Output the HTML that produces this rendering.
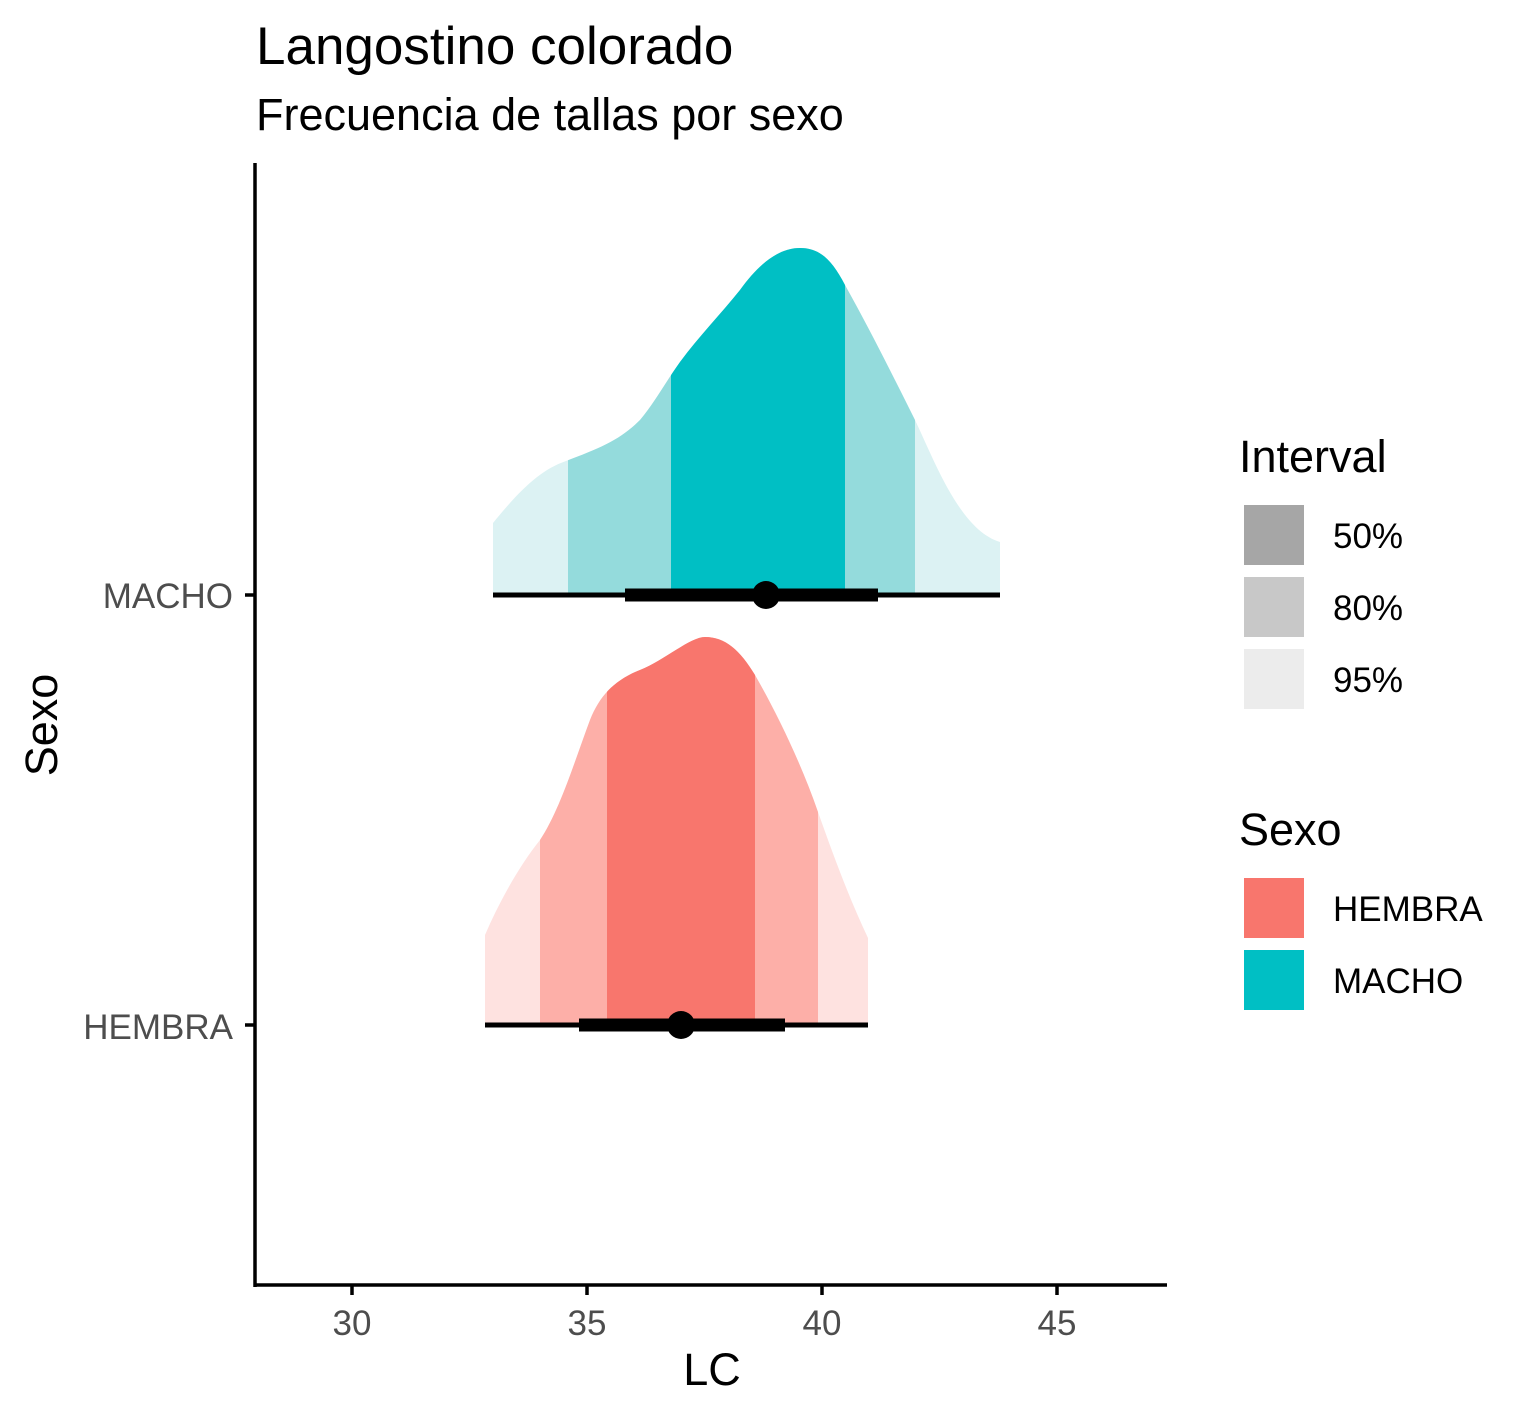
<!DOCTYPE html>
<html><head><style>body{margin:0;background:#fff}svg{display:block}</style></head><body>
<svg width="1535" height="1417" xmlns="http://www.w3.org/2000/svg" font-family="Liberation Sans, sans-serif">
<defs>
<clipPath id="m95"><path d="M493,595 L493,523 C520,490 540,470 566,461 C600,448 620,440 640,420 C655,402 665,383 680,362 C700,335 720,315 740,290 C760,262 780,248 800,248 C820,248 832,260 845,285 C870,330 890,370 915,420 C935,462 960,530 1000,542 L1000,595 Z"/></clipPath>
<clipPath id="h95"><path d="M485,1025 L485,935 C500,900 520,865 540,840 C560,810 575,760 590,720 C600,695 615,680 640,670 C665,660 690,637 705,637 C725,637 740,650 755,675 C775,710 800,760 818,812 C835,860 850,900 868,938 L868,1025 Z"/></clipPath>
</defs>
<text x="256" y="64" font-size="53">Langostino colorado</text>
<text x="256" y="130" font-size="45">Frecuencia de tallas por sexo</text>
<g clip-path="url(#m95)">
<rect x="480" y="200" width="540" height="400" fill="#dcf2f3"/>
<rect x="568" y="200" width="347" height="400" fill="#94dbdc"/>
<rect x="671" y="200" width="174" height="400" fill="#00BFC4"/>
</g>
<g clip-path="url(#h95)">
<rect x="480" y="600" width="400" height="430" fill="#fee2e0"/>
<rect x="540" y="600" width="278" height="430" fill="#fdafa8"/>
<rect x="607" y="600" width="148" height="430" fill="#F8766D"/>
</g>
<line x1="493" y1="595" x2="1000" y2="595" stroke="#000" stroke-width="5"/>
<line x1="625" y1="595" x2="878" y2="595" stroke="#000" stroke-width="13"/>
<circle cx="766" cy="595" r="14" fill="#000"/>
<line x1="485" y1="1025" x2="868" y2="1025" stroke="#000" stroke-width="5"/>
<line x1="579" y1="1025" x2="785" y2="1025" stroke="#000" stroke-width="13"/>
<circle cx="681" cy="1025" r="14" fill="#000"/>
<line x1="255" y1="163" x2="255" y2="1287" stroke="#000" stroke-width="3.5"/>
<line x1="254" y1="1285" x2="1167" y2="1285" stroke="#000" stroke-width="3.5"/>
<g stroke="#000" stroke-width="3.5">
<line x1="245" y1="595" x2="255" y2="595"/><line x1="245" y1="1025" x2="255" y2="1025"/>
<line x1="352" y1="1285" x2="352" y2="1295"/><line x1="587" y1="1285" x2="587" y2="1295"/>
<line x1="822" y1="1285" x2="822" y2="1295"/><line x1="1057" y1="1285" x2="1057" y2="1295"/>
</g>
<g font-size="35" fill="#4d4d4d">
<text x="233" y="608" text-anchor="end">MACHO</text>
<text x="233" y="1039" text-anchor="end">HEMBRA</text>
<g text-anchor="middle">
<text x="352" y="1335">30</text><text x="587" y="1335">35</text><text x="822" y="1335">40</text><text x="1057" y="1335">45</text>
</g></g>
<text x="712" y="1385" font-size="45" text-anchor="middle">LC</text>
<text transform="translate(57,725) rotate(-90)" font-size="45" text-anchor="middle">Sexo</text>
<text x="1239" y="472" font-size="45">Interval</text>
<rect x="1244" y="505" width="60" height="60" fill="#a6a6a6"/>
<rect x="1244" y="577" width="60" height="60" fill="#c8c8c8"/>
<rect x="1244" y="649" width="60" height="60" fill="#ececec"/>
<g font-size="35"><text x="1333" y="548">50%</text><text x="1333" y="620">80%</text><text x="1333" y="692">95%</text></g>
<text x="1239" y="845" font-size="45">Sexo</text>
<rect x="1244" y="878" width="60" height="60" fill="#F8766D"/>
<rect x="1244" y="950" width="60" height="60" fill="#00BFC4"/>
<g font-size="35"><text x="1333" y="921">HEMBRA</text><text x="1333" y="993">MACHO</text></g>
</svg>
</body></html>
